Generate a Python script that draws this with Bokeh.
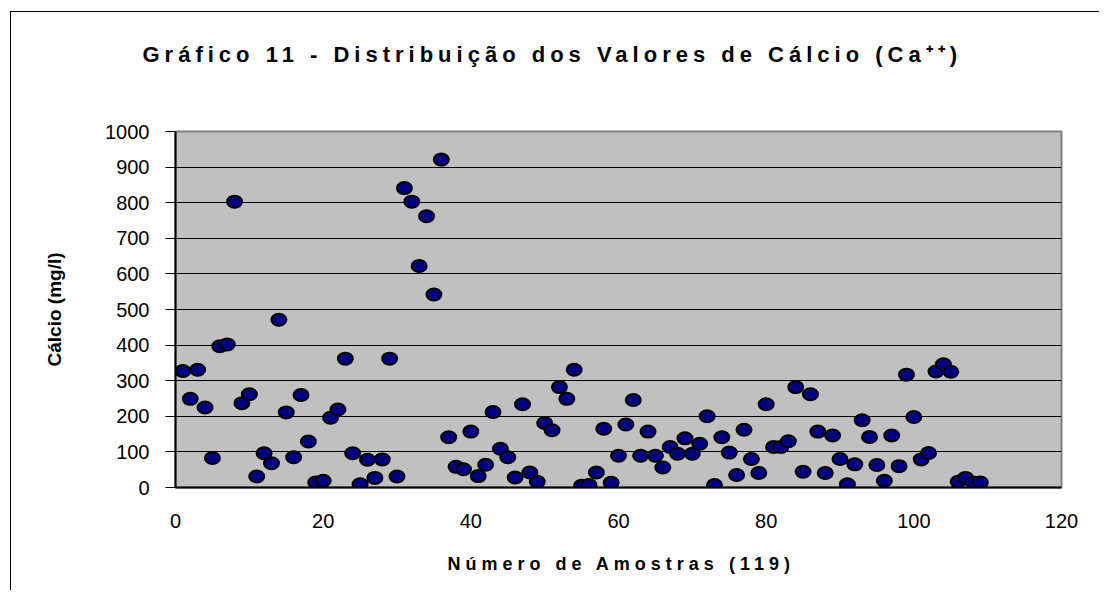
from bokeh.plotting import figure
from bokeh.models import FixedTicker, Range1d
from bokeh.layouts import column
from bokeh.embed import file_html
from bokeh.resources import INLINE

samples = list(range(1, 110))
calcium = [327, 249, 331, 225, 83, 397, 402, 803, 237, 262,
           31, 96, 68, 471, 211, 85, 260, 129, 14, 19,
           196, 219, 362, 96, 9, 78, 27, 79, 362, 31,
           841, 803, 622, 762, 542, 921, 141, 58, 51, 157,
           32, 64, 212, 109, 85, 28, 234, 42, 16, 181,
           161, 282, 249, 331, 5, 7, 42, 165, 13, 89,
           177, 246, 89, 157, 89, 56, 114, 95, 138, 95,
           123, 200, 7, 141, 98, 35, 162, 80, 41, 234,
           114, 114, 130, 282, 44, 262, 157, 41, 146, 80,
           9, 65, 189, 142, 63, 19, 146, 60, 317, 198,
           79, 97, 326, 346, 325, 16, 27, 14, 14]
x_ticks = [0, 20, 40, 60, 80, 100, 120]
y_ticks = [0, 100, 200, 300, 400, 500, 600, 700, 800, 900, 1000]

title_text = "Gráfico 11 - Distribuição dos Valores de Cálcio (Ca⁺⁺)"
x_label = "Número de Amostras (119)"
y_label = "Cálcio (mg/l)"

FONT = "Liberation Sans"
W = 1088
H_TOP, H_MAIN, H_BOT = 100, 428, 50
BL, BR = 164, W - 1050   # left/right borders shared by all three parts


def text_strip(height, text, size, offset, standoff):
    f = figure(width=W, height=height, x_range=Range1d(0, 1), y_range=Range1d(0, 1),
               output_backend="svg", toolbar_location=None,
               x_axis_type=None, y_axis_type=None,
               min_border_left=BL, min_border_right=BR,
               min_border_top=0, min_border_bottom=0)
    f.outline_line_color = None
    f.background_fill_color = "white"
    f.border_fill_color = "white"
    f.styles = {"letter-spacing": "5px"}
    f.title.text = text
    f.title.align = "left"
    f.title.offset = offset
    f.title.standoff = standoff
    f.title.text_font = FONT
    f.title.text_font_style = "bold"
    f.title.text_font_size = size
    f.title.text_color = "black"
    return f


# --- chart title ---
top = text_strip(H_TOP, title_text, "22px", -33, 54)

# --- main chart ---
p = figure(width=W, height=H_MAIN, x_range=Range1d(0, 120), y_range=Range1d(0, 1000),
           output_backend="svg", toolbar_location=None, title_location=None,
           min_border_left=BL, min_border_right=BR,
           min_border_top=19, min_border_bottom=H_MAIN - 19 - 356)
p.background_fill_color = "#C0C0C0"
p.border_fill_color = "white"
p.outline_line_color = "#808080"
p.outline_line_width = 2

p.xgrid.visible = False
p.ygrid.ticker = FixedTicker(ticks=y_ticks)
p.ygrid.grid_line_color = "black"
p.ygrid.grid_line_width = 1

p.xaxis.ticker = FixedTicker(ticks=x_ticks)
p.yaxis.ticker = FixedTicker(ticks=y_ticks)
for ax in (p.xaxis[0], p.yaxis[0]):
    ax.axis_line_color = "black"
    ax.axis_line_width = 2
    ax.minor_tick_line_color = None
    ax.major_label_text_font = FONT
    ax.major_label_text_font_size = "20px"
    ax.major_label_text_color = "black"
    ax.axis_label_text_font = FONT
    ax.axis_label_text_font_style = "bold"
    ax.axis_label_text_color = "black"

p.yaxis.major_tick_out = 10
p.yaxis.major_tick_in = 0
p.yaxis.major_tick_line_color = "black"
p.yaxis.major_label_standoff = 16
p.yaxis.axis_label = y_label
p.yaxis.axis_label_text_font_size = "19px"
p.yaxis.axis_label_standoff = 37

p.xaxis.major_tick_out = 0
p.xaxis.major_tick_in = 0
p.xaxis.major_label_standoff = 26

p.ellipse(x=samples, y=calcium, width=15, height=12,
          width_units="screen", height_units="screen",
          fill_color="#000080", line_color="black", line_width=2)

# --- x-axis title ---
bot = text_strip(H_BOT, x_label, "18px", 272, 23)

layout = column(top, p, bot, spacing=0)
layout.styles = {"border-left": "1px solid #000000", "border-top": "1px solid #000000",
                 "margin-left": "10px", "margin-top": "11px"}

open("out.html", "w").write(file_html(layout, INLINE))
